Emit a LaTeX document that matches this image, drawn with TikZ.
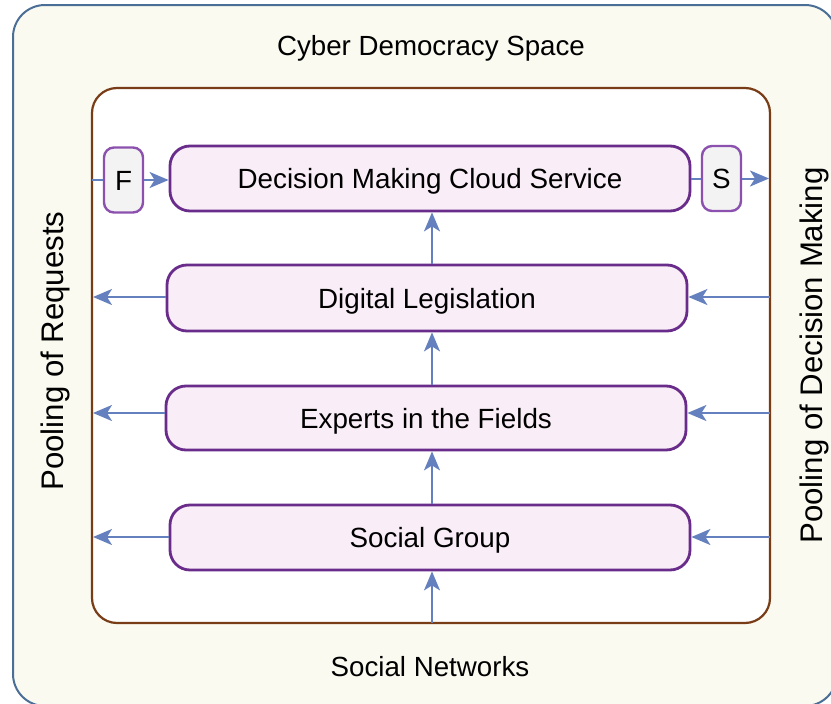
\documentclass[tikz,border=0pt]{standalone}
\usepackage{fontspec}
\setmainfont{Liberation Sans}
\usetikzlibrary{arrows.meta}
\definecolor{outerfill}{RGB}{250,250,240}
\definecolor{outerdraw}{RGB}{75,110,150}
\definecolor{innerdraw}{RGB}{120,60,22}
\definecolor{boxfill}{RGB}{249,238,247}
\definecolor{boxdraw}{RGB}{106,44,138}
\definecolor{smallfill}{RGB}{243,243,243}
\definecolor{smalldraw}{RGB}{140,80,175}
\definecolor{arrowcol}{RGB}{100,128,190}
\tikzset{
  mainbox/.style={draw=boxdraw, fill=boxfill, line width=2.8pt, rounded corners=20pt,
    minimum width=520pt, inner sep=0pt, text height=20pt, text depth=0pt,
    font=\fontsize{27.8}{33}\selectfont},
  smallbox/.style={draw=smalldraw, fill=smallfill, line width=2.4pt, rounded corners=10pt,
    minimum width=39pt, minimum height=65pt, inner sep=0pt, text height=20pt, text depth=0pt,
    font=\fontsize{27.8}{33}\selectfont},
  conn/.style={draw=arrowcol, line width=2pt},
  arr/.style={conn, -{Stealth[length=19pt,width=16pt,inset=5pt]}},
  label/.style={font=\fontsize{27.7}{33}\selectfont, inner sep=0pt},
  sidelabel/.style={font=\fontsize{31.2}{36}\selectfont, inner sep=0pt, rotate=90}
}
\begin{document}
\begin{tikzpicture}[x=1pt,y=-1pt]
\useasboundingbox (0,0) rectangle (831,704);
\clip (0,0) rectangle (831,704);
% outer frame
\draw[draw=outerdraw, fill=outerfill, line width=2pt, rounded corners=32pt] (13,5) rectangle (837,706);
% inner frame
\draw[draw=innerdraw, fill=white, line width=2.2pt, rounded corners=25pt] (92,88) rectangle (770,623);
% labels
\node[label, anchor=base] (title) at (431,56) {Cyber Democracy Space};
\node[label, anchor=base] (bottom) at (430,676) {Social Networks};
\node[sidelabel] (left) at (55,351) {Pooling of Requests};
\node[sidelabel] (right) at (814,355.5) {Pooling of Decision Making};
% boxes
\node[mainbox, minimum height=65pt] (dec) at (430,178.5) {Decision Making Cloud Service};
\node[mainbox, minimum height=66pt] (dig) at (427,298) {Digital Legislation};
\node[mainbox, minimum height=64pt] (exp) at (426,418) {Experts in the Fields};
\node[mainbox, minimum height=65pt] (soc) at (430,537.5) {Social Group};
\node[smallbox] (F) at (123.5,180) {F};
\node[smallbox] (S) at (721.5,178.5) {S};
% coordinates on the inner frame
\coordinate (fin) at (92,180);
\coordinate (sout) at (769,180);
\coordinate (digL) at (93,297);
\coordinate (expL) at (93,413);
\coordinate (socL) at (93,537);
\coordinate (digR) at (770,297);
\coordinate (expR) at (770,413);
\coordinate (socR) at (770,537);
\coordinate (botin) at (432,623);
% top row
\draw[conn] (fin) -- (F.west);
\draw[arr] (F.east) -- (dec.west |- F.east);
\draw[conn] (dec.east |- S.west) -- (S.west);
\draw[arr] (S.east) -- (sout |- S.east);
% left arrows
\draw[arr] (dig.west |- digL) -- (digL);
\draw[arr] (exp.west |- expL) -- (expL);
\draw[arr] (soc.west |- socL) -- (socL);
% right arrows
\draw[arr] (digR) -- (dig.east |- digR);
\draw[arr] (expR) -- (exp.east |- expR);
\draw[arr] (socR) -- (soc.east |- socR);
% vertical arrows
\draw[arr] (botin) -- (botin |- soc.south);
\draw[arr] (botin |- soc.north) -- (botin |- exp.south);
\draw[arr] (botin |- exp.north) -- (botin |- dig.south);
\draw[arr] (botin |- dig.north) -- (botin |- dec.south);
\end{tikzpicture}
\end{document}
